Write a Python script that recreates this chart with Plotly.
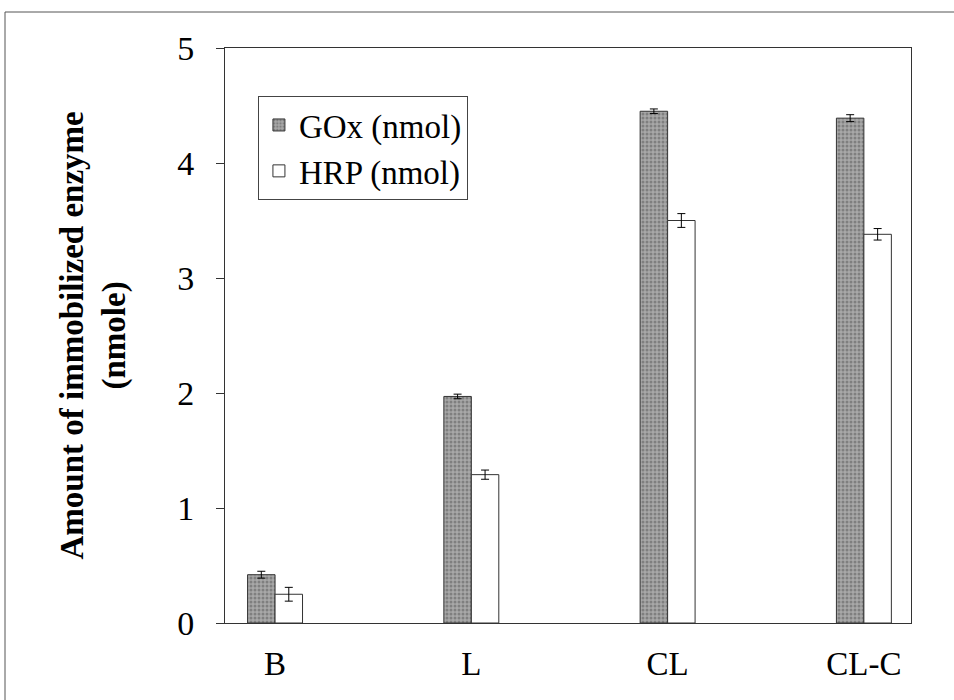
import plotly.graph_objects as go

categories = ["B", "L", "CL", "CL-C"]
gox = [0.42, 1.97, 4.45, 4.39]
gox_err = [0.03, 0.02, 0.02, 0.03]
hrp = [0.25, 1.29, 3.50, 3.38]
hrp_err = [0.06, 0.04, 0.06, 0.05]
y_ticks = [0, 1, 2, 3, 4, 5]

FONT = "Liberation Serif, Times New Roman, serif"
FS = 33

fig = go.Figure()
fig.add_trace(go.Bar(
    x=categories, y=gox, name="GOx (nmol)",
    marker=dict(color="#8e8e8e", line=dict(color="#333333", width=1),
                pattern=dict(shape=".", fgcolor="#555555", bgcolor="#a8a8a8", size=4, solidity=0.45)),
    error_y=dict(type="data", array=gox_err, color="black", thickness=1, width=4),
))
fig.add_trace(go.Bar(
    x=categories, y=hrp, name="HRP (nmol)",
    marker=dict(color="white", line=dict(color="#333333", width=1)),
    error_y=dict(type="data", array=hrp_err, color="black", thickness=1, width=4),
))

fig.update_layout(
    width=954, height=700,
    margin=dict(l=225, r=43, t=48, b=77),
    paper_bgcolor="white", plot_bgcolor="white",
    barmode="group", bargap=0.72, bargroupgap=0,
    font=dict(family=FONT, color="black", size=FS),
    showlegend=True,
    legend=dict(x=0.048, y=0.9165, xanchor="left", yanchor="top",
                bgcolor="rgba(255,255,255,0)", bordercolor="#444444", borderwidth=1,
                font=dict(family=FONT, size=FS), tracegroupgap=0, itemwidth=30),
    xaxis=dict(range=[-0.255, 3.24], showline=True, linecolor="#333333", linewidth=1,
               mirror=True, ticks="", tickfont=dict(family=FONT, size=FS),
               ticklabelstandoff=11, showgrid=False, zeroline=False),
    yaxis=dict(range=[0, 5], tickvals=y_ticks, showline=True, linecolor="#333333",
               linewidth=1, mirror=True, ticks="outside", ticklen=8, tickcolor="#333333",
               tickfont=dict(family=FONT, size=34), ticklabelstandoff=15,
               showgrid=False, zeroline=False),
    annotations=[dict(text="<b>Amount of immobilized enzyme<br>(nmole)</b>",
                      xref="paper", yref="paper", x=(93 - 225) / 686, y=0.5,
                      xanchor="center", yanchor="middle", textangle=-90, showarrow=False,
                      font=dict(family=FONT, size=FS))],
    shapes=[dict(type="rect", xref="paper", yref="paper",
                 x0=(5 - 225) / 686, x1=1.2, y0=-0.3, y1=1 + (48 - 12) / 575,
                 line=dict(color="#555555", width=1), fillcolor="rgba(0,0,0,0)", layer="below")],
)

fig.write_html("out.html")
